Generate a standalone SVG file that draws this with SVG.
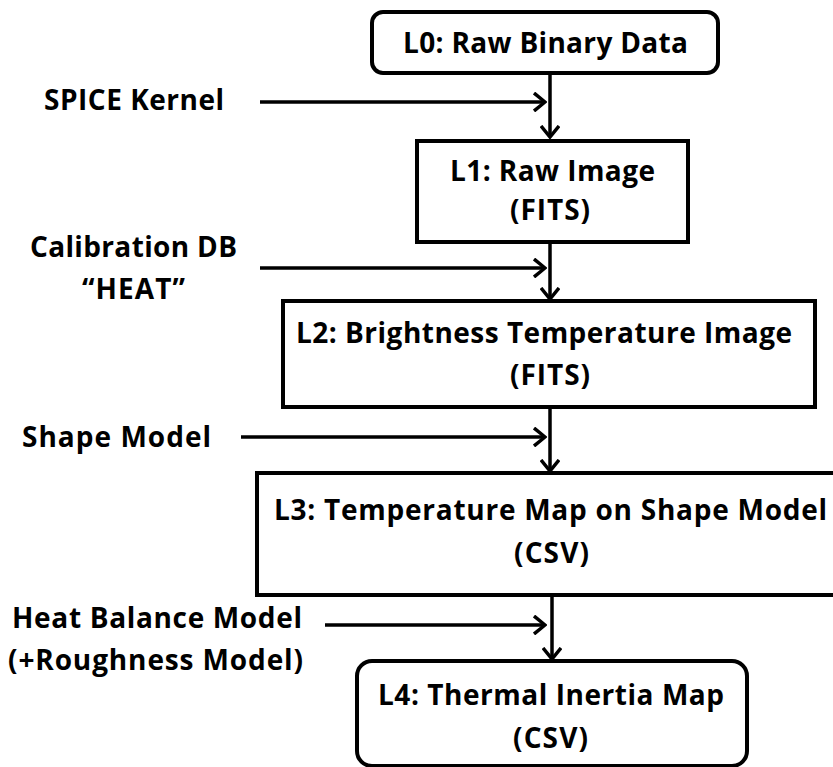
<svg xmlns="http://www.w3.org/2000/svg" width="833" height="767" viewBox="0 0 833 767">
<style>
text{font-family:"Open Sans","Liberation Sans",sans-serif;font-weight:bold;font-size:28px;fill:#000}
.box{fill:#fff;stroke:#000;stroke-width:4}
.c{stroke:#000;stroke-width:3.5;fill:none}
</style>
<defs>
<marker id="ah" viewBox="0 0 14 20" refX="12" refY="10" markerWidth="14" markerHeight="20" markerUnits="userSpaceOnUse" orient="auto">
<path d="M1,1 L12,10 L1,19" fill="none" stroke="#000" stroke-width="3.5"/>
</marker>
</defs>
<rect width="833" height="767" fill="#fff"/>
<g id="connectors">
<line class="c" x1="550" y1="73" x2="550" y2="137" marker-end="url(#ah)"/>
<line class="c" x1="260" y1="102" x2="545" y2="102" marker-end="url(#ah)"/>
<line class="c" x1="550" y1="242" x2="550" y2="299" marker-end="url(#ah)"/>
<line class="c" x1="260" y1="268" x2="545" y2="268" marker-end="url(#ah)"/>
<line class="c" x1="550" y1="407" x2="550" y2="471" marker-end="url(#ah)"/>
<line class="c" x1="241" y1="437" x2="545" y2="437" marker-end="url(#ah)"/>
<line class="c" x1="552" y1="595" x2="552" y2="659" marker-end="url(#ah)"/>
<line class="c" x1="325" y1="625" x2="545" y2="625" marker-end="url(#ah)"/>
</g>
<g id="L0">
<rect class="box" x="372" y="12" width="346" height="61" rx="11"/>
<text x="403" y="53" textLength="285">L0: Raw Binary Data</text>
</g>
<g id="L1">
<rect class="box" x="417" y="141" width="271" height="101"/>
<text x="450" y="181" textLength="205">L1: Raw Image</text>
<text x="510" y="220" textLength="80">(FITS)</text>
</g>
<g id="L2">
<rect class="box" x="283" y="301" width="532" height="106"/>
<text x="296" y="343" textLength="496">L2: Brightness Temperature Image</text>
<text x="510" y="385" textLength="80">(FITS)</text>
</g>
<g id="L3">
<rect class="box" x="257" y="473" width="590" height="122"/>
<text x="274" y="520" textLength="553">L3: Temperature Map on Shape Model</text>
<text x="514" y="563" textLength="75">(CSV)</text>
</g>
<g id="L4">
<rect class="box" x="357" y="661" width="390" height="105" rx="15"/>
<text x="378" y="705" textLength="346">L4: Thermal Inertia Map</text>
<text x="513" y="748" textLength="75">(CSV)</text>
</g>
<g id="spice"><text x="44" y="110" textLength="180">SPICE Kernel</text></g>
<g id="calib">
<text x="30" y="257" textLength="207">Calibration DB</text>
<text x="82" y="299" textLength="103">“HEAT”</text>
</g>
<g id="shape"><text x="22" y="447" textLength="189">Shape Model</text></g>
<g id="heat">
<text x="12" y="628" textLength="290">Heat Balance Model</text>
<text x="8" y="670" textLength="295">(+Roughness Model)</text>
</g>
</svg>
